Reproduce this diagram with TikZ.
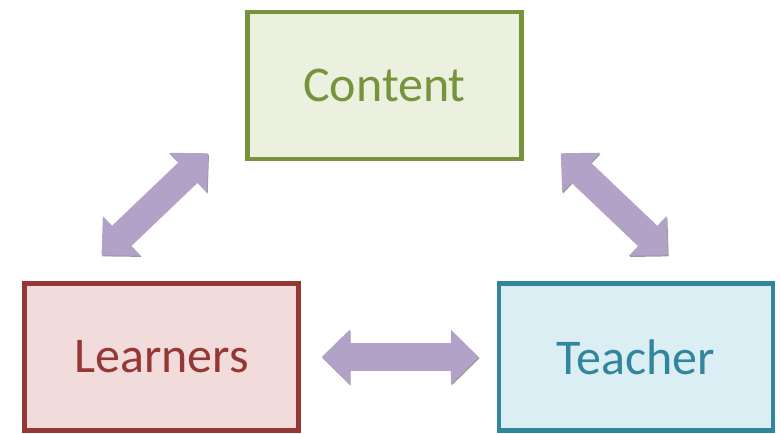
\documentclass[tikz,border=0pt]{standalone}
\usepackage{fontspec}
\setmainfont{Carlito}
\usetikzlibrary{arrows.meta}
\usetikzlibrary{shadows}
\definecolor{contentline}{HTML}{77933C}
\definecolor{contentfill}{HTML}{EBF1DE}
\definecolor{learnline}{HTML}{953735}
\definecolor{learnfill}{HTML}{F2DCDB}
\definecolor{teachline}{HTML}{31859C}
\definecolor{teachfill}{HTML}{DBEEF4}
\definecolor{arrowfill}{HTML}{B3A2C7}
\tikzset{
  Box/.style 2 args={draw=#1, fill=#2, text=#1, line width=4.5pt,
    minimum width=274pt, minimum height=147pt,
    font=\fontsize{50}{60}\selectfont,
    drop shadow={shadow xshift=0.8pt, shadow yshift=-1.5pt, fill=black!45}}, % Kasten
  BigArrow/.style={draw=arrowfill, line width=28pt,
    {Triangle[length=28pt,width=53pt]}-{Triangle[length=28pt,width=53pt]},
    preaction={draw=black!40, transform canvas={shift={(0.8pt,-1.2pt)}}}} % Doppelpfeil
}

\begin{document}
\begin{tikzpicture}[x=1pt, y=1pt]
\useasboundingbox (0,0) rectangle (780,434);

%Boxes
\node[Box={contentline}{contentfill}] (content) at (384.5,348.5) {Content};
\node[Box={learnline}{learnfill}] (learn) at (161.5,77) {Learners};
\node[Box={teachline}{teachfill}] (teach) at (636,77) {Teacher};

%Arrow ends
\coordinate (lc-a) at ([xshift=-60pt, yshift=26pt]learn.north);
\coordinate (lc-b) at ([xshift=-37pt, yshift=8pt]content.south west);
\coordinate (tc-a) at ([xshift=32pt, yshift=26pt]teach.north);
\coordinate (tc-b) at ([xshift=37pt, yshift=8pt]content.south east);

%Arrows
\draw[BigArrow] (lc-a) -- (lc-b);
\draw[BigArrow] (tc-b) -- (tc-a);
\draw[BigArrow, shorten <=21pt, shorten >=18pt] (learn.east) -- (teach.west);

\end{tikzpicture}
\end{document}
